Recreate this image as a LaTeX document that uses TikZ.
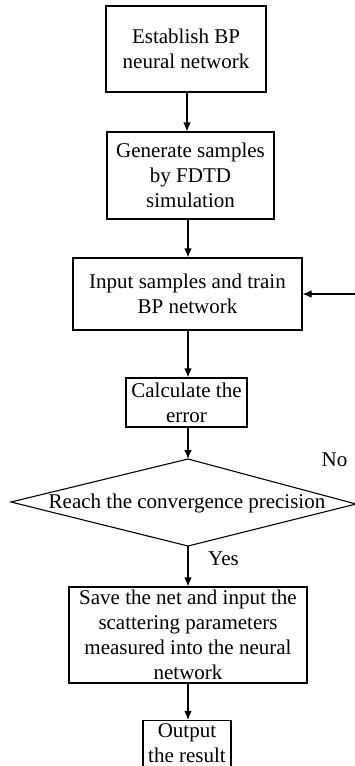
\documentclass[tikz,border=0pt]{standalone}
\usepackage{fontspec}
\setmainfont{Liberation Serif}
\usetikzlibrary{arrows.meta}
\begin{document}
\begin{tikzpicture}[x=1pt,y=-1pt,
  box/.style={draw, line width=1.1pt, align=center, inner sep=0pt, font=\fontsize{21}{25}\selectfont},
  lbl/.style={inner sep=0pt, anchor=base, font=\fontsize{21}{25}\selectfont},
  arr/.style={line width=1.1pt, -{Latex[length=9pt,width=7.5pt]}},
  edge/.style={line width=1.1pt}]
\clip (0,0) rectangle (355,766);
\fill[white] (0,0) rectangle (355,766);
\node[box, minimum width=160pt, minimum height=86pt] (n1) at (186,49) {Establish BP\\neural network};
\node[box, minimum width=167pt, minimum height=87pt] (n2) at (190.5,175.5) {Generate samples\\by FDTD\\simulation};
\node[box, minimum width=229pt, minimum height=72pt] (n3) at (187.5,294) {Input samples and train\\BP network};
\node[box, minimum width=121pt, minimum height=49pt] (n4) at (186.5,402.5) {Calculate the\\error};
\coordinate (dT) at (188,459);
\coordinate (dL) at (11,502);
\coordinate (dR) at (356,504);
\coordinate (dB) at (188,546);
\draw[edge] (dT) -- (dL) -- (dB) -- (dR) -- cycle;
\node[lbl] (dtext) at (187,508) {Reach the convergence precision};
\node[box, minimum width=238pt, minimum height=96pt] (n5) at (188,635) {Save the net and input the\\scattering parameters\\measured into the neural\\network};
\node[box, minimum width=88pt, minimum height=46pt, text depth=0pt] (n6) at (187,743.5) {Output\\the result};
\node[lbl] (no) at (334.5,466) {No};
\node[lbl] (yes) at (223.5,565) {Yes};
\draw[arr] (n1.south -| 187,0) -- (n2.north -| 187,0);
\draw[arr] (n2.south -| 188,0) -- (n3.north -| 188,0);
\draw[arr] (n3.south -| 188,0) -- (n4.north -| 188,0);
\draw[arr] (n4.south -| 188,0) -- (dT);
\draw[arr] (dB) -- (n5.north -| 188,0);
\draw[arr] (n5.south -| 188,0) -- (n6.north -| 188,0);
\draw[arr] (dR) -- ++(12,0) |- (n3.east);
\end{tikzpicture}
\end{document}
